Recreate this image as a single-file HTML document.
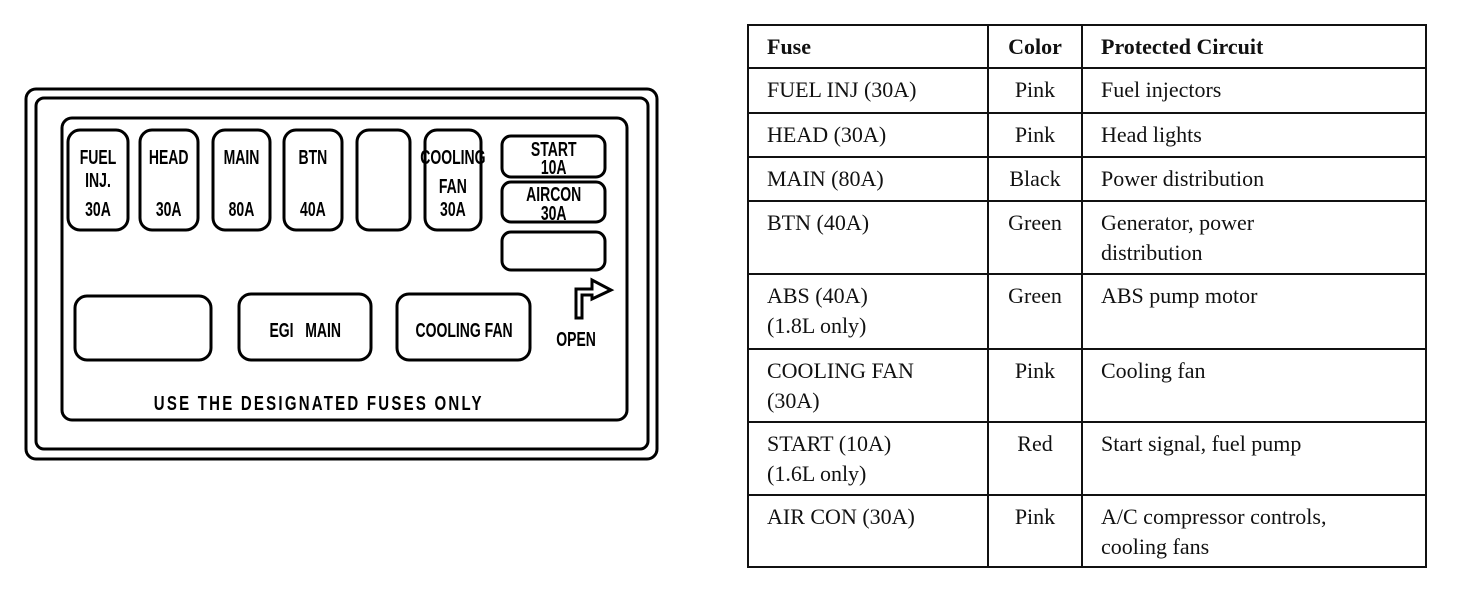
<!DOCTYPE html>
<html><head><meta charset="utf-8"><style>
body{margin:0;background:#fff;width:1472px;height:600px;overflow:hidden;position:relative}
svg{position:absolute;left:0;top:0}
table{position:absolute;left:747px;top:24px;border-collapse:collapse;font-family:"Liberation Serif",serif;font-size:22px;color:#111}
td{border:2px solid #111;vertical-align:top;padding:6px 8px 0 18px;line-height:30px}
th{border:2px solid #111;text-align:left;padding:4px 8px 4px 18px;font-size:22px;height:33px}
td.c,th.c{text-align:center;padding-left:8px}
</style></head><body>
<svg width="740" height="600" font-family="Liberation Sans, sans-serif" font-weight="bold">
<g fill="none" stroke="#000" stroke-width="3">
<rect x="26" y="89" width="631" height="370" rx="10"/>
<rect x="36" y="98" width="612" height="351" rx="8"/>
<rect x="62" y="118" width="565" height="302" rx="10"/>
<rect x="68" y="130" width="60" height="100" rx="12"/>
<rect x="140" y="130" width="58" height="100" rx="12"/>
<rect x="213" y="130" width="57" height="100" rx="12"/>
<rect x="284" y="130" width="58" height="100" rx="12"/>
<rect x="357" y="130" width="53" height="100" rx="12"/>
<rect x="425" y="130" width="56" height="100" rx="12"/>
<rect x="502" y="136" width="103" height="41" rx="9"/>
<rect x="502" y="182" width="103" height="40" rx="9"/>
<rect x="502" y="232" width="103" height="38" rx="9"/>
<rect x="75" y="296" width="136" height="64" rx="12"/>
<rect x="239" y="294" width="132" height="66" rx="12"/>
<rect x="397" y="294" width="133" height="66" rx="12"/>
<path d="M576 318 V289 H592 V280 L611 290 L592 299 V295 H582 V318 Z"/>
</g>
<g font-size="20" text-anchor="middle" fill="#000" transform="scale(0.7,1)">
<text x="140" y="164">FUEL</text><text x="140" y="187">INJ.</text><text x="140" y="216">30A</text>
<text x="241" y="164">HEAD</text><text x="241" y="216">30A</text>
<text x="345" y="164">MAIN</text><text x="345" y="216">80A</text>
<text x="447" y="164">BTN</text><text x="447" y="216">40A</text>
<text x="647" y="164">COOLING</text><text x="647" y="193">FAN</text><text x="647" y="216">30A</text>
<text x="791" y="156">START</text><text x="791" y="174">10A</text>
<text x="791" y="201">AIRCON</text><text x="791" y="220">30A</text>
<text x="436" y="337">EGI &#160; MAIN</text>
<text x="663" y="337">COOLING FAN</text>
<text x="823" y="346">OPEN</text>
</g>
<g transform="scale(0.75,1)"><text x="425" y="410" font-size="20" text-anchor="middle" letter-spacing="3">USE THE DESIGNATED FUSES ONLY</text></g>
</svg>
<table>
<tr><th style="width:212px">Fuse</th><th class="c" style="width:76px">Color</th><th style="width:316px">Protected Circuit</th></tr>
<tr style="height:45px"><td>FUEL INJ (30A)</td><td class="c">Pink</td><td>Fuel injectors</td></tr>
<tr style="height:44px"><td>HEAD (30A)</td><td class="c">Pink</td><td>Head lights</td></tr>
<tr style="height:44px"><td>MAIN (80A)</td><td class="c">Black</td><td>Power distribution</td></tr>
<tr style="height:73px"><td>BTN (40A)</td><td class="c">Green</td><td>Generator, power<br>distribution</td></tr>
<tr style="height:75px"><td>ABS (40A)<br>(1.8L only)</td><td class="c">Green</td><td>ABS pump motor</td></tr>
<tr style="height:73px"><td>COOLING FAN<br>(30A)</td><td class="c">Pink</td><td>Cooling fan</td></tr>
<tr style="height:73px"><td>START (10A)<br>(1.6L only)</td><td class="c">Red</td><td>Start signal, fuel pump</td></tr>
<tr style="height:72px"><td>AIR CON (30A)</td><td class="c">Pink</td><td>A/C compressor controls,<br>cooling fans</td></tr>
</table>
</body></html>
